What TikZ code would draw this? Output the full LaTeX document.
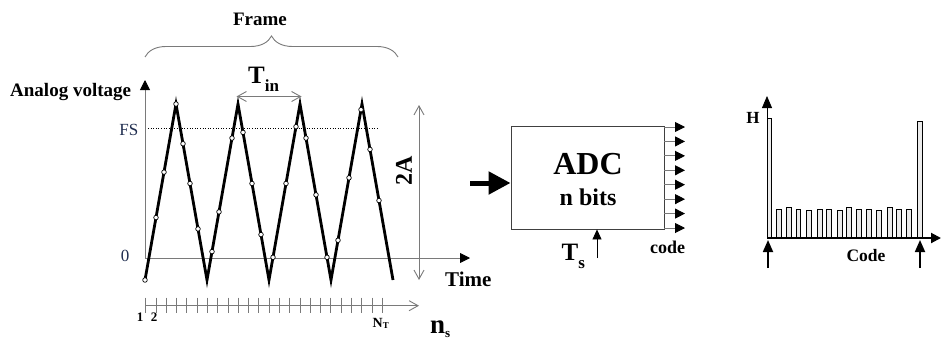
\documentclass[tikz,border=0pt]{standalone}
\usepackage{fontspec}
\setmainfont{Liberation Serif}
\usetikzlibrary{arrows.meta,positioning,calc,decorations.pathreplacing}
\definecolor{axisgray}{HTML}{7A7A7A}
\definecolor{lblnavy}{HTML}{1F2D4F}
\definecolor{barfill}{HTML}{EBEBEB}

\begin{document}
\begin{tikzpicture}[
  x=1pt, y=-1pt,
  lbl/.style={font=\fontsize{19}{19}\selectfont\bfseries, inner sep=0pt},
  numlbl/.style={font=\fontsize{17}{17}\selectfont, text=lblnavy, inner sep=0pt, anchor=base east},
  axisline/.style={draw=axisgray, line width=0.9pt},
  wave/.style={draw=black, line width=2.8pt, line cap=butt, line join=miter},
  sdot/.style={circle, draw=black, fill=white, line width=0.7pt, inner sep=0pt, minimum size=4.6pt},
  barb/.style={axisline, -{Straight Barb[length=9pt,width=10pt]}},
  twobarb/.style={axisline, {Straight Barb[length=9pt,width=10pt]}-{Straight Barb[length=9pt,width=10pt]}},
  solidtip/.style={-{Triangle[length=10pt,width=10pt,color=black]}},
  bar/.style={draw=black, line width=0.6pt, fill=barfill},
]
\useasboundingbox (0,0) rectangle (942,340);

% frame brace and signal axes
\node[lbl, anchor=base] (framelbl) at (260,25) {Frame};
\coordinate (brl) at (145,57);
\coordinate (brr) at (398,57);
\draw[axisline, decorate, decoration={brace, amplitude=21pt}] (brl) -- (brr);

\coordinate (org) at (145,258);
\coordinate (ytip) at (145,80);
\coordinate (xtip) at (470,258);
\draw[axisline, solidtip] (org) -- (ytip);
\draw[axisline, solidtip] (org) -- (xtip);
\node[lbl, anchor=base west] (vlbl) at (10,96) {Analog voltage};
\node[lbl, anchor=base west, font=\fontsize{21}{21}\selectfont\bfseries] (timelbl) at (445,286.5) {Time};

\coordinate (fsl) at (148,128);
\coordinate (fsr) at (377,128);
\draw[black, line width=0.6pt, dotted] (fsl) -- (fsr);
\node[numlbl] (fslbl) at (138.5,135) {FS};
\node[numlbl] (zerolbl) at (129.5,261.5) {0};

% triangle input and its samples
\draw[wave] (145,280) -- (176,104) -- (207,280) -- (238,104) -- (269,280)
  -- (300,104) -- (331,280) -- (362,104) -- (393,280);
\foreach \sx [count=\i] in {145,156,164,176,183,190,198,212,219,232,243,252,
    261,273,286,296,306,316,327,338,349,361,370,379} {
  \pgfmathsetmacro\ph{mod(\sx-145,62)}
  \pgfmathsetmacro\sy{\ph<31 ? 280-\ph*176/31 : 104+(\ph-31)*176/31}
  \node[sdot] (s\i) at (\sx,\sy) {};
}

% period and amplitude
\coordinate (tinl) at (236.5,96.5);
\coordinate (tinr) at (301.5,96.5);
\draw[twobarb] (tinl) -- (tinr);
\node[inner sep=0pt, anchor=base west] (tinlbl) at (248,83.3)
  {\fontsize{25}{25}\selectfont\bfseries T\raisebox{-8pt}{\fontsize{17}{17}\selectfont in}};
\coordinate (amptop) at (419,105);
\coordinate (ampbot) at (419,280);
\draw[twobarb] (amptop) -- (ampbot);
\node[lbl, rotate=90, font=\fontsize{24}{24}\selectfont\bfseries] (amplbl) at (404,171) {2A};

% sample index axis
\coordinate (ns0) at (145,305.7);
\coordinate (ns1) at (419,305.7);
\draw[barb] (ns0) -- (ns1);
\foreach \k in {0,...,23}
  \draw[axisline] (145.7+10.29*\k,297.7) -- ++(0,15.6);
\node[lbl, anchor=base, font=\fontsize{13}{13}\selectfont\bfseries] (onelbl) at (140,321.7) {1};
\node[lbl, anchor=base, font=\fontsize{13}{13}\selectfont\bfseries] (twolbl) at (154.2,321.7) {2};
\node[lbl, anchor=base west] (ntlbl) at (372.5,327.7)
  {\fontsize{14}{14}\selectfont\bfseries N\raisebox{-0.5pt}{\fontsize{9}{9}\selectfont T}};
\node[lbl, anchor=base west] (nslbl) at (430,333)
  {\fontsize{27}{27}\selectfont\bfseries n\raisebox{-4pt}{\fontsize{13}{13}\selectfont s}};

% converter
\node[draw=black!75, line width=0.9pt, minimum width=153pt, minimum height=103pt,
  inner sep=0pt] (adc) at (587.5,177.5) {};
\node[lbl, font=\fontsize{32}{32}\selectfont\bfseries] (adclbl) at (588,164) {ADC};
\node[lbl, font=\fontsize{24}{24}\selectfont\bfseries] (bitslbl) at (588,197) {n bits};
\coordinate (inarr) at (470,183);
\draw[line width=5pt, -{Triangle[length=22pt,width=22pt]}] (inarr) -- (inarr -| adc.west);
\foreach \k in {0,...,7} {
  \coordinate (cs\k) at (664,127+14.43*\k);
  \coordinate (ce\k) at (685,127+14.43*\k);
  \draw[axisline, solidtip] (cs\k) -- (ce\k);
}
\node[lbl, anchor=base, font=\fontsize{18}{18}\selectfont\bfseries] (codelbl) at (667.5,253) {code};
\coordinate (tsfoot) at (597,258);
\draw[black, line width=0.8pt, -{Triangle[length=10pt,width=9pt]}] (tsfoot) -- (tsfoot |- adc.south);
\node[inner sep=0pt, anchor=base west] (tslbl) at (561.5,260)
  {\fontsize{25}{25}\selectfont\bfseries T\raisebox{-8pt}{\fontsize{17}{17}\selectfont s}};

% code histogram
\draw[bar] (767,238) rectangle (771,118);
\draw[bar] (917.5,238) rectangle (922,121);
\foreach \bx/\bh [count=\i] in {776.7/29,786.7/30.7,796/29,806.7/27.3,817.3/29,826.7/29,
    837.3/27.3,846.7/30.7,856.7/29,866.7/29,876.7/27.3,887.3/30.7,896.7/29,906.7/29}
  \draw[bar] (\bx,238) rectangle (\bx+4.5,238-\bh);
\coordinate (ho) at (767,238);
\coordinate (htop) at (767,96);
\coordinate (hright) at (941,238);
\draw[black, line width=0.8pt, -{Triangle[length=12pt,width=10pt]}] (ho) -- (htop);
\draw[black, line width=2pt, -{Triangle[length=10pt,width=10pt]}] (ho) -- (hright);
\node[lbl, anchor=base, font=\fontsize{17}{17}\selectfont\bfseries] (hlbl) at (753,123.3) {H};
\node[lbl, anchor=base, font=\fontsize{17.5}{17.5}\selectfont\bfseries] (hcodelbl) at (866,261.7) {Code};
\coordinate (lofoot) at (768,268);
\coordinate (lotip) at (768,240);
\coordinate (hifoot) at (920,268);
\coordinate (hitip) at (920,240);
\draw[black, line width=1.8pt, -{Triangle[length=12pt,width=10pt]}] (lofoot) -- (lotip);
\draw[black, line width=1.8pt, -{Triangle[length=12pt,width=10pt]}] (hifoot) -- (hitip);
\end{tikzpicture}
\end{document}
